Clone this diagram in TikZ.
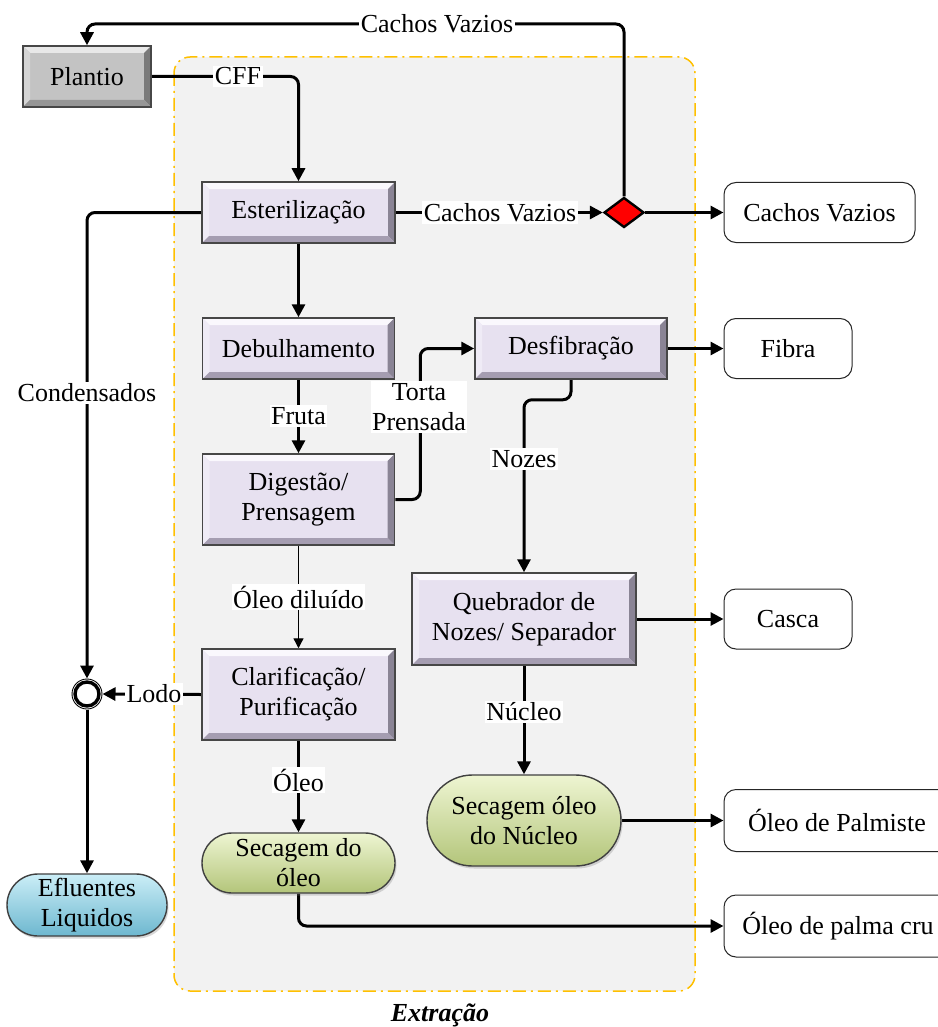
\documentclass[tikz,border=0pt]{standalone}
\usepackage{fontspec}
\setmainfont{Liberation Serif}
\newfontfamily\timesface{Liberation Serif}
\usetikzlibrary{shapes.geometric,shapes.misc,arrows.meta,calc,shadows}

\pgfdeclarelayer{bg}
\pgfdeclarelayer{lines}
\pgfsetlayers{bg,lines,main}

% process boxes (lavender bevel)
\definecolor{procface}{HTML}{E7E1F0}
\definecolor{proclight}{HTML}{FAF8FD}
\definecolor{procside}{HTML}{EFEBF6}
\definecolor{procdark}{HTML}{8A8495}
\definecolor{procshade}{HTML}{A59DB1}
% grey bevel
\definecolor{plantface}{HTML}{C3C3C3}
\definecolor{plantlight}{HTML}{E8E8E8}
\definecolor{plantside}{HTML}{D5D5D5}
\definecolor{plantdark}{HTML}{7A7A7A}
\definecolor{plantshade}{HTML}{969696}
% rounded terminals
\definecolor{greentop}{HTML}{EEF5D2}
\definecolor{greenmid}{HTML}{D5E2A5}
\definecolor{greenbot}{HTML}{B3C57A}
\definecolor{bluetop}{HTML}{CBEEF7}
\definecolor{bluemid}{HTML}{9DD8EA}
\definecolor{bluebot}{HTML}{6DB7CF}
% extraction area
\definecolor{regionfill}{HTML}{F2F2F2}
\definecolor{regionline}{HTML}{FFC000}

% four bevel bands inside a rectangular node: top, left, right, bottom
\newcommand\bevelbands[4]{%
  \path (path picture bounding box.north west) coordinate (bvA)
        (path picture bounding box.north east) coordinate (bvB)
        (path picture bounding box.south east) coordinate (bvC)
        (path picture bounding box.south west) coordinate (bvD);
  \fill[#1] (bvA) -- (bvB) -- ([shift={(-7pt,-7pt)}]bvB) -- ([shift={(7pt,-7pt)}]bvA) -- cycle;
  \fill[#2] (bvA) -- (bvD) -- ([shift={(7pt,7pt)}]bvD) -- ([shift={(7pt,-7pt)}]bvA) -- cycle;
  \fill[#3] (bvB) -- (bvC) -- ([shift={(-7pt,7pt)}]bvC) -- ([shift={(-7pt,-7pt)}]bvB) -- cycle;
  \fill[#4] (bvD) -- (bvC) -- ([shift={(-7pt,7pt)}]bvC) -- ([shift={(7pt,7pt)}]bvD) -- cycle;
}

\tikzset{
  proc/.style={draw=black!72, line width=1.5pt, fill=procface, inner sep=0pt, align=center,
    path picture={\bevelbands{proclight}{procside}{procdark}{procshade}}},
  plant/.style={draw=black!72, line width=1.5pt, fill=plantface, inner sep=0pt, align=center,
    path picture={\bevelbands{plantlight}{plantside}{plantdark}{plantshade}}},
  greenend/.style={rounded rectangle, draw=black!75, line width=1.4pt, inner sep=0pt, align=center,
    top color=greentop, middle color=greenmid, bottom color=greenbot,
    drop shadow={shadow xshift=1.5pt, shadow yshift=-2.5pt, opacity=0.3}},
  blueend/.style={rounded rectangle, draw=black!75, line width=1.4pt, inner sep=0pt, align=center,
    top color=bluetop, middle color=bluemid, bottom color=bluebot,
    drop shadow={shadow xshift=1.5pt, shadow yshift=-2.5pt, opacity=0.3}},
  outbox/.style={draw=black!85, line width=1pt, rounded corners=12pt, fill=white, inner sep=0pt},
  lab/.style={fill=white, inner xsep=1.5pt, inner ysep=2pt, align=center},
  flow/.style={line width=3pt, rounded corners=8pt, -{Triangle[length=13pt,width=13pt]}},
  thinflow/.style={line width=1.3pt, -{Triangle[length=10pt,width=10pt]}},
  region/.style={fill=regionfill, draw=regionline, line width=1.5pt,
    dash pattern=on 13pt off 5pt on 2pt off 5pt, rounded corners=16pt},
}

\begin{document}
\begin{tikzpicture}[x=1pt, y=-1pt, font=\timesface\fontsize{26}{30}\selectfont]
\useasboundingbox (0,0) rectangle (937,1027);

\begin{pgfonlayer}{bg}
  \fill[white] (0,0) rectangle (937,1027);
  \path[region] (174,57) rectangle (695,991);
\end{pgfonlayer}

% process steps
\node[plant, minimum width=128pt, minimum height=61pt] (plantio) at (87,76.5) {Plantio};
\node[proc, minimum width=193pt, minimum height=61pt] (ester) at (298.5,212.5) {Esterilização};
\node[proc, minimum width=192pt, minimum height=61pt] (debul) at (298.5,348.5) {Debulhamento};
\node[proc, minimum width=192pt, minimum height=91pt] (digest) at (298.5,499.5) {Digestão/\\Prensagem};
\node[proc, minimum width=193pt, minimum height=91pt] (clarif) at (298.5,694.5) {Clarificação/\\Purificação};
\node[greenend, minimum width=193pt, minimum height=60pt] (secoleo) at (298.5,863) {Secagem do\\óleo};
\node[blueend, minimum width=160pt, minimum height=62pt] (eflu) at (87,905) {Efluentes\\Liquidos};
\node[proc, minimum width=192pt, minimum height=61pt] (desfib) at (571,348.5) {Desfibração};
\node[proc, minimum width=224pt, minimum height=92pt] (quebr) at (524,619) {Quebrador de\\Nozes/ Separador};
\node[greenend, minimum width=194pt, minimum height=91pt] (secnuc) at (524,820.5) {Secagem óleo\\do Núcleo};

% splitter and junction
\node[diamond, draw=black, line width=2.4pt, fill=red, inner sep=0pt,
      minimum width=40pt, minimum height=30pt] (dia) at (624,212.5) {};
\node[circle, draw=black, line width=3.4pt, fill=white, inner sep=0pt,
      minimum size=24pt, outer sep=3.5pt] (lodo) at (87,694) {};
\draw[line width=0.9pt] (lodo.center) circle[radius=15pt];

% products
\node[outbox, minimum width=191pt, minimum height=60pt] (cvout) at (819.5,212.5) {Cachos Vazios};
\node[outbox, minimum width=128pt, minimum height=60pt] (fibra) at (788,348.5) {Fibra};
\node[outbox, minimum width=128pt, minimum height=60pt] (casca) at (788,619) {Casca};
\node[outbox, minimum width=226pt, minimum height=62pt] (palmiste) at (837,820.5) {Óleo de Palmiste};
\node[outbox, minimum width=228pt, minimum height=62pt] (palmacru) at (838,926) {Óleo de palma cru};

% stream labels
\node[lab] (lcv1) at (437,24) {Cachos Vazios};
\node[lab] (lcff) at (238,76.5) {CFF};
\node[lab] (lcv2) at (500,212.5) {Cachos Vazios};
\node[lab] (lcond) at (87,393) {Condensados};
\node[lab] (lfruta) at (298.5,416) {Fruta};
\node[lab] (ltorta) at (419,407) {Torta\\Prensada};
\node[lab] (lnozes) at (524,459) {Nozes};
\node[lab] (loleod) at (298.5,597) {Óleo diluído};
\node[lab] (llodo) at (154,694) {Lodo};
\node[lab] (loleo) at (298.5,780) {Óleo};
\node[lab] (lnucleo) at (524,712) {Núcleo};

\node[font=\timesface\fontsize{26}{30}\selectfont\bfseries\itshape] (title) at (440,1015) {Extração};

% streams
\begin{pgfonlayer}{lines}
  \draw[flow] (dia.north) |- (plantio.north |- lcv1) -- (plantio.north);
  \draw[flow] (plantio.east) -| (ester.north);
  \draw[flow] (ester.east) -- (dia.west);
  \draw[flow] (dia.east) -- (cvout.west);
  \draw[flow] (ester.south) -- (debul.north);
  \draw[flow] (ester.west) -| (lodo.north);
  \draw[flow] (debul.south) -- (digest.north);
  \draw[flow] (digest.east) -- ++(25,0) |- (desfib.west);
  \draw[flow] (desfib.east) -- (fibra.west);
  \draw[flow] (desfib.south) -- ++(0,20) -| (quebr.north);
  \draw[thinflow] (digest.south) -- (clarif.north);
  \draw[flow] (clarif.west) -- (lodo.east);
  \draw[flow] (lodo.south) -- (eflu.north);
  \draw[flow] (clarif.south) -- (secoleo.north);
  \draw[flow] (secoleo.south) |- (palmacru.west);
  \draw[flow] (quebr.east) -- (casca.west);
  \draw[flow] (quebr.south) -- (secnuc.north);
  \draw[flow] (secnuc.east) -- (palmiste.west);
\end{pgfonlayer}
\end{tikzpicture}
\end{document}
